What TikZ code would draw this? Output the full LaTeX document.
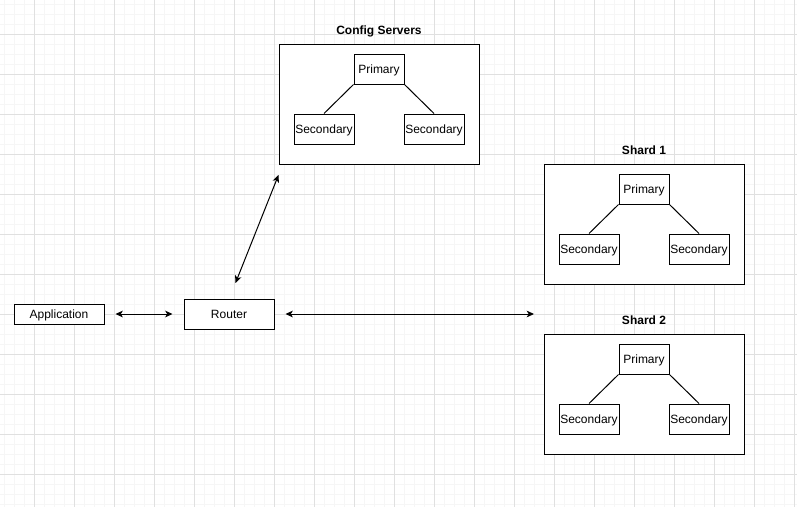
\documentclass[tikz,border=0pt]{standalone}
\usepackage{fontspec}
\setmainfont{Liberation Sans}
\definecolor{gridminor}{RGB}{246,246,246}
\definecolor{gridmajor}{RGB}{224,224,224}
\usetikzlibrary{arrows.meta,positioning}

\begin{document}
\begin{tikzpicture}[x=0.75pt, y=-0.75pt,
    box/.style={rectangle, draw=black, fill=white, line width=0.75pt, inner sep=0pt,
                text height=6.5pt, text depth=0pt, font=\fontsize{9}{11}\selectfont},
    pribox/.style={box, minimum width=37.5pt, minimum height=22.5pt},
    secbox/.style={box, minimum width=45pt, minimum height=22.5pt},
    groupbox/.style={rectangle, draw=black, fill=white, line width=0.75pt, inner sep=0pt,
                     minimum width=150pt, minimum height=90pt},
    grouptitle/.style={font=\bfseries\fontsize{9}{11}\selectfont, text height=6.5pt, text depth=0pt},
    link/.style={draw=black, line width=0.75pt},
    biarrow/.style={link, {Stealth[length=5.5pt,width=5pt,inset=1.5pt]}-{Stealth[length=5.5pt,width=5pt,inset=1.5pt]}}
  ]
    % Background grid
    \useasboundingbox (0,0) rectangle (797,507);
    \fill[white] (0,0) rectangle (797,507);
    \foreach \x in {4,14,...,794} \draw[gridminor, line width=0.75pt] (\x,0) -- (\x,507);
    \foreach \y in {4,14,...,504} \draw[gridminor, line width=0.75pt] (0,\y) -- (797,\y);
    \foreach \x in {34,74,...,794} \draw[gridmajor, line width=0.75pt] (\x,0) -- (\x,507);
    \foreach \y in {34,74,...,504} \draw[gridmajor, line width=0.75pt] (0,\y) -- (797,\y);

    % Config servers
    \node[grouptitle] (cfgtitle) at (379,30) {Config Servers};
    \node[groupbox] (cfg) at (379,104) {};
    \node[pribox] (cfgpri) at (379,69) {Primary};
    \node[secbox] (cfgsecl) at (324,129) {Secondary};
    \node[secbox] (cfgsecr) at (434,129) {Secondary};
    \draw[link] (cfgpri.south west) -- (cfgsecl.north);
    \draw[link] (cfgpri.south east) -- (cfgsecr.north);

    % Shard 1
    \node[grouptitle] (sh1title) at (644,150) {Shard 1};
    \node[groupbox] (sh1) at (644,224) {};
    \node[pribox] (sh1pri) at (644,189) {Primary};
    \node[secbox] (sh1secl) at (589,249) {Secondary};
    \node[secbox] (sh1secr) at (699,249) {Secondary};
    \draw[link] (sh1pri.south west) -- (sh1secl.north);
    \draw[link] (sh1pri.south east) -- (sh1secr.north);

    % Shard 2
    \node[grouptitle] (sh2title) at (644,320) {Shard 2};
    \node[groupbox] (sh2) at (644,394) {};
    \node[pribox] (sh2pri) at (644,359) {Primary};
    \node[secbox] (sh2secl) at (589,419) {Secondary};
    \node[secbox] (sh2secr) at (699,419) {Secondary};
    \draw[link] (sh2pri.south west) -- (sh2secl.north);
    \draw[link] (sh2pri.south east) -- (sh2secr.north);

    % Application and router
    \node[box, minimum width=67.5pt, minimum height=15pt] (app) at (59,314) {Application};
    \node[box, minimum width=67.5pt, minimum height=22.5pt] (router) at (229,314) {Router};

    % Arrows
    \coordinate (routerup) at (235.5,283);
    \coordinate (cfgin) at (278.5,175);
    \coordinate (shardin) at (534,314);
    \draw[biarrow, shorten <=8.25pt, shorten >=8.25pt] (app) -- (router);
    \draw[biarrow] (routerup) -- (cfgin);
    \draw[biarrow, shorten <=8.25pt] (router) -- (shardin);
  \end{tikzpicture}
\end{document}
